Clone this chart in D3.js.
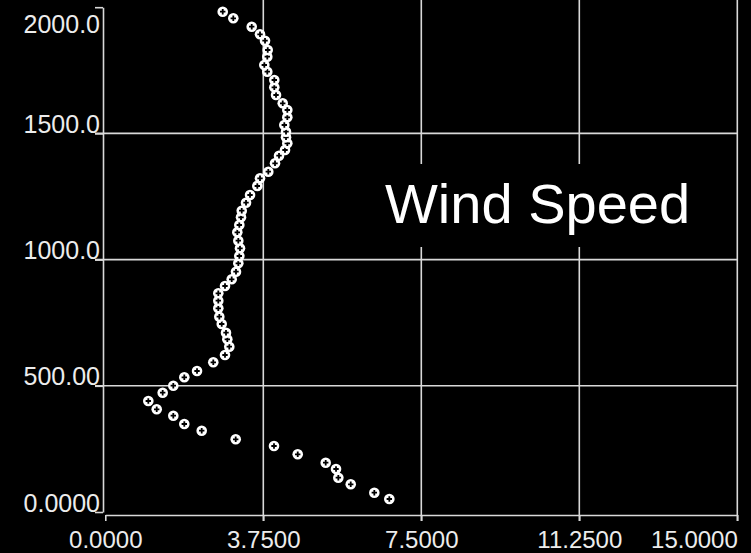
<!DOCTYPE html>
<html>
<head>
<meta charset="utf-8">
<script src="https://cdn.jsdelivr.net/npm/d3@7"></script>
<style>
  html, body { margin: 0; padding: 0; background: #000; }
  svg { display: block; }
</style>
</head>
<body>
<script>
// Wind speed (x) vs height (y)
const windSpeed = [6.741, 6.385, 5.825, 5.531, 5.476, 5.231, 4.567, 4.004, 3.095, 2.288,
  1.875, 1.614, 1.220, 1.021, 1.362, 1.614, 1.875, 2.177, 2.563, 2.841,
  2.943, 2.896, 2.865, 2.763, 2.706, 2.682, 2.682, 2.682, 2.841, 3.000,
  3.102, 3.157, 3.181, 3.197, 3.157, 3.133, 3.181, 3.221, 3.238, 3.340,
  3.435, 3.608, 3.672, 3.869, 4.028, 4.123, 4.265, 4.320, 4.289, 4.289,
  4.249, 4.320, 4.320, 4.211, 4.052, 4.011, 4.011, 3.845, 3.774, 3.845,
  3.855, 3.791, 3.672, 3.475, 3.038, 2.787];
const height = [51.5, 76.5, 109.7, 135.9, 170.4, 195.3, 228.6, 261.5, 288.0, 322.1,
  348.7, 381.5, 406.9, 439.8, 472.7, 500.4, 533.7, 558.6, 593.1, 622.0,
  654.9, 684.2, 710.4, 744.9, 773.8, 807.0, 837.2, 866.5, 895.4, 922.0,
  952.1, 985.3, 1014.3, 1044.8, 1074.9, 1108.2, 1137.1, 1167.6, 1193.8, 1225.4,
  1256.0, 1291.6, 1322.1, 1348.3, 1381.5, 1411.7, 1434.2, 1460.8, 1484.6, 1506.8,
  1533.3, 1563.8, 1592.7, 1619.3, 1652.2, 1682.7, 1711.6, 1744.5, 1771.0, 1803.9,
  1830.4, 1867.3, 1892.6, 1922.8, 1956.0, 1982.2];
const xTicks = [0, 3.75, 7.5, 11.25, 15];
const xTickLabels = ["0.0000", "3.7500", "7.5000", "11.2500", "15.0000"];
const yTicks = [0, 500, 1000, 1500, 2000];
const yTickLabels = ["0.0000", "500.00", "1000.0", "1500.0", "2000.0"];
const title = "Wind Speed";

const W = 751, H = 553;
const svg = d3.select("body").append("svg").attr("width", W).attr("height", H);
svg.append("rect").attr("width", W).attr("height", H).attr("fill", "#000");

const x = d3.scaleLinear().domain([0, 15]).range([105.3, 737.3]);
const y = d3.scaleLinear().domain([0, 2000]).range([512, 7.2]);

const gridColor = "#d9d9d9";
const font = "'Liberation Sans', Arial, sans-serif";

// Horizontal grid lines (inner ticks)
svg.append("g").selectAll("line")
  .data(yTicks.filter(t => t > 0 && t < 2000))
  .join("line")
  .attr("x1", 95).attr("x2", x(15))
  .attr("y1", d => y(d)).attr("y2", d => y(d))
  .attr("stroke", gridColor).attr("stroke-width", 1.6);

// Vertical grid lines
svg.append("g").selectAll("line")
  .data(xTicks.filter(t => t > 0))
  .join("line")
  .attr("x1", d => x(d)).attr("x2", d => x(d))
  .attr("y1", 0).attr("y2", 521)
  .attr("stroke", gridColor).attr("stroke-width", 1.6);

// Y axis
const yAxis = d3.axisLeft(y).tickValues(yTicks).tickSize(8).tickSizeOuter(0)
  .tickFormat((d, i) => yTickLabels[i]);
const gy = svg.append("g").attr("transform", "translate(103,0)").call(yAxis);
gy.select(".domain").attr("stroke", gridColor).attr("stroke-width", 1.6);
gy.selectAll(".tick line").attr("stroke", gridColor).attr("stroke-width", 1.6);
gy.selectAll(".tick text")
  .attr("fill", "#ececec").attr("font-family", font).attr("font-size", 25)
  .attr("x", -3).attr("dy", (d) => d === 2000 ? "25px" : "-1px");

// X axis
const xAxis = d3.axisBottom(x).tickValues(xTicks).tickSize(6).tickSizeOuter(0)
  .tickFormat((d, i) => xTickLabels[i]);
const gx = svg.append("g").attr("transform", "translate(0,515)").call(xAxis);
gx.select(".domain").attr("stroke", gridColor).attr("stroke-width", 1.6);
gx.selectAll(".tick line").attr("stroke", gridColor).attr("stroke-width", 1.6);
gx.selectAll(".tick text")
  .attr("fill", "#ececec").attr("font-family", font).attr("font-size", 24)
  .attr("y", 33).attr("dy", 0)
  .attr("text-anchor", d => d === 15 ? "end" : "middle");

// Title box (black background hides grid lines behind the title)
svg.append("rect")
  .attr("x", 376).attr("y", 164).attr("width", 360).attr("height", 83)
  .attr("fill", "#000");

// Points: white disc with dark cross
const pts = svg.append("g").selectAll("g")
  .data(windSpeed.map((v, i) => [v, height[i]]))
  .join("g")
  .attr("transform", d => `translate(${x(d[0])},${y(d[1])})`);
pts.append("circle").attr("r", 5.3).attr("fill", "#fff");
pts.append("path").attr("d", "M-2.7,0H2.7M0,-2.7V2.7")
  .attr("stroke", "#000").attr("stroke-width", 1.8);

// Title
svg.append("text")
  .attr("x", 385).attr("y", 223)
  .attr("fill", "#fff").attr("font-family", font).attr("font-size", 56)
  .text(title);
</script>
</body>
</html>
